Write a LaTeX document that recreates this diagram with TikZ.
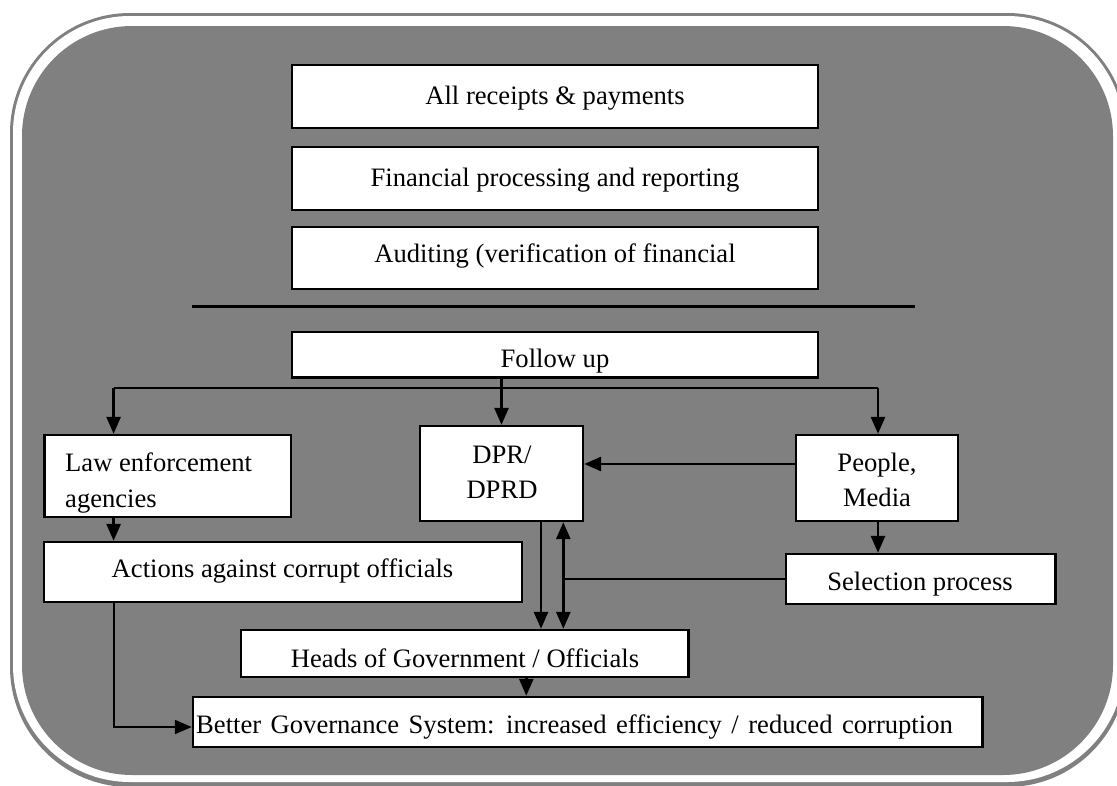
\documentclass[tikz,border=0pt]{standalone}
\usepackage{fontspec}
\setmainfont{Liberation Serif}
\usetikzlibrary{arrows.meta}
\definecolor{framegray}{HTML}{808080}
\begin{document}
\begin{tikzpicture}[x=1pt,y=-1pt,
  box/.style={draw=black, line width=2.4pt, fill=white, inner sep=0pt, rectangle},
  txt/.style={anchor=base, inner sep=0pt, font=\fontsize{26.6pt}{32pt}\selectfont},
  ltxt/.style={txt, anchor=base west},
  link/.style={draw=black, line width=2.8pt},
  arr/.style={link, -{Triangle[length=17pt,width=14pt]}},
  darr/.style={link, {Triangle[length=17pt,width=14pt]}-{Triangle[length=17pt,width=14pt]}},
  thinlink/.style={draw=black, line width=2pt},
  thinarr/.style={thinlink, -{Triangle[length=17pt,width=14pt]}}]
\useasboundingbox (0,0) rectangle (1117,785);
% frame
\fill[framegray, rounded corners=120pt] (10,13) rectangle (1127,787);
\fill[white, rounded corners=117pt] (13,16) rectangle (1124,782);
\fill[framegray, rounded corners=110pt] (22,26) rectangle (1113,775);

% boxes
\node[box, minimum width=526pt, minimum height=63pt] (A) at (555,96.5) {};
\node[box, minimum width=526pt, minimum height=63pt] (B) at (555,178.5) {};
\node[box, minimum width=526pt, minimum height=62pt] (C) at (555,258) {};
\node[box, minimum width=526pt, minimum height=45.5pt] (F) at (555,354.75) {};
\node[box, minimum width=246.4pt, minimum height=82pt] (Law) at (167.8,476) {};
\node[box, minimum width=163pt, minimum height=95pt] (DPR) at (501.5,473.5) {};
\node[box, minimum width=162pt, minimum height=86pt] (People) at (877,478) {};
\node[box, minimum width=477.7pt, minimum height=60pt] (Actions) at (282.85,572) {};
\node[box, minimum width=269.5pt, minimum height=50pt] (Sel) at (920.75,579) {};
\node[box, minimum width=447.5pt, minimum height=47pt] (Heads) at (464.75,653.5) {};
\node[box, minimum width=789.5pt, minimum height=50pt] (Better) at (587.75,722) {};

% texts
\node[txt] (tA) at (555,104) {All receipts \& payments};
\node[txt] (tB) at (555,186) {Financial processing and reporting};
\node[txt] (tC) at (555,262) {Auditing (verification of financial};
\begin{scope}
  \clip (F.south west) rectangle (F.north east);
  \node[txt] (tF) at (555,367) {Follow up};
\end{scope}
\begin{scope}
  \clip (Law.south west) rectangle (Law.north east);
  \node[ltxt] (tL1) at (65,471) {Law enforcement};
  \node[ltxt] (tL2) at (65,507) {agencies};
\end{scope}
\node[txt] (tD1) at (502,463) {DPR/};
\node[txt] (tD2) at (502,498) {DPRD};
\node[txt] (tP1) at (877,471) {People,};
\node[txt] (tP2) at (877,506) {Media};
\node[txt] (tAc) at (282.5,577) {Actions against corrupt officials};
\node[txt] (tS) at (920,590) {Selection process};
\node[txt] (tH) at (465,667) {Heads of Government / Officials};
\node[ltxt] (tBe) at (196,733) {\spaceskip=9.5pt Better Governance System: increased efficiency / reduced corruption};

% divider
\coordinate (dl) at (192,306.5);
\coordinate (dr) at (915,306.5);
\draw[line width=2.4pt] (dl) -- (dr);

% connectors
\coordinate (bl) at (113.6,388);
\coordinate (br) at (878,388);
\coordinate (pd) at (700,464);
\coordinate (d1) at (541,0);
\coordinate (d2) at (563.3,0);
\coordinate (d3) at (526.3,0);

\draw[arr] (F.south -| DPR.north) -- (DPR.north);
\draw[link] (bl) -- (br);
\draw[arr] (bl) -- (Law.north -| bl);
\draw[arr] (br) -- (People.north -| br);
\draw[arr] (People.west |- pd) -- (DPR.east |- pd);
\draw[arr] (Law.south -| bl) -- (Actions.north -| bl);
\draw[arr] (People.south -| br) -- (Sel.north -| br);
\draw[arr] (DPR.south -| d1) -- (Heads.north -| d1);
\draw[darr] (DPR.south -| d2) -- (Heads.north -| d2);
\draw[thinlink] (Sel.west) -- (Sel.west -| d2);
\draw[arr] (Heads.south -| d3) -- (Better.north -| d3);
\draw[thinarr] (Actions.south -| bl) |- ([yshift=-5pt]Better.west);
\end{tikzpicture}
\end{document}
